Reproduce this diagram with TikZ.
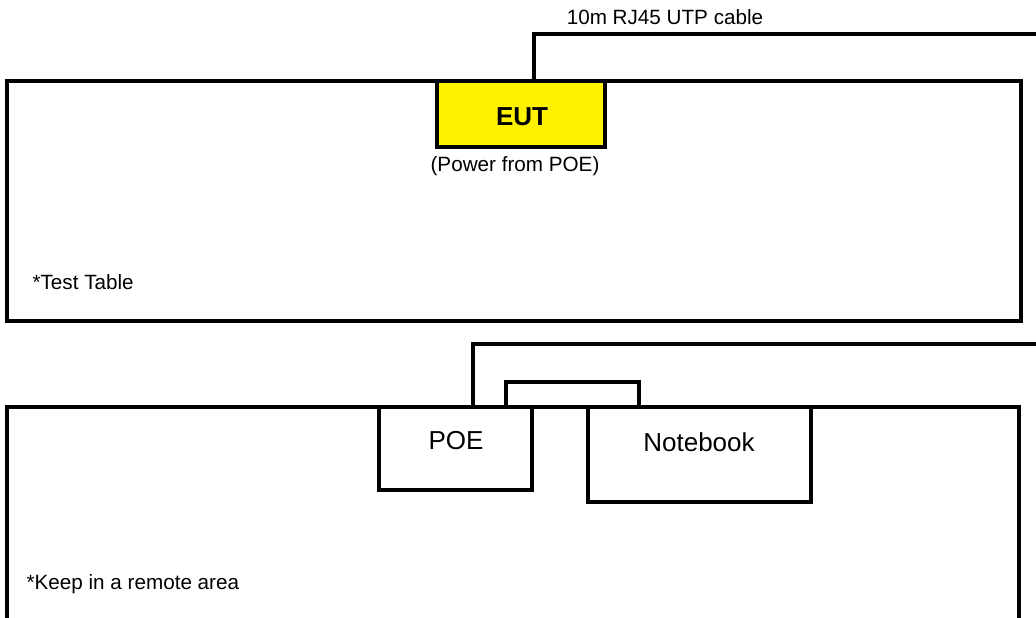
\documentclass[tikz,border=0pt]{standalone}
\usepackage{fontspec}
\setmainfont{Liberation Sans}
\begin{document}
\begin{tikzpicture}[x=0.75pt,y=-0.75pt,
  line width=2.4pt,
  txt/.style={inner sep=0pt,font=\fontsize{15.5}{18}\selectfont},
  bigtxt/.style={inner sep=0pt,font=\fontsize{19.5}{22}\selectfont},
  boxnode/.style={draw,fill=white,inner sep=0pt,line width=2.4pt,outer sep=0pt},
  cable/.style={line width=2.4pt,line join=miter}]
\useasboundingbox (0,0) rectangle (1036,618);
\begin{scope}
\clip (0,0) rectangle (1036,618);
% test table
\draw[line width=2.4pt] (7,81) rectangle (1021,321);
% remote area table (no bottom edge visible)
\draw[line width=2.4pt] (7,630) -- (7,407) -- (1019,407) -- (1019,630);
% cable ends
\coordinate (c1) at (1040,34);
\coordinate (c2) at (1040,344);
\node[boxnode,fill=yellow,minimum width=126pt,minimum height=49.5pt] (eut) at (521,114) {};
\node[boxnode,minimum width=114.75pt,minimum height=62.25pt] (poe) at (455.5,448.5) {};
\node[boxnode,minimum width=167.25pt,minimum height=71.25pt] (nb) at (699.5,454.5) {};
\draw[cable] (eut.north -| 534,0) -- (534,34) -- (c1);
\draw[cable] (poe.north -| 473,0) -- (473,344) -- (c2);
\draw[cable] (poe.north -| 506,0) -- (506,382) -- (639,382) -- (nb.north -| 639,0);
\end{scope}
\node[txt,font=\fontsize{19.5}{22}\selectfont\bfseries] (eutlbl) at (522,117) {EUT};
\node[txt] (pwr) at (515,166) {(Power from POE)};
\node[txt] (cbl) at (665,17) {10m RJ45 UTP cable};
\node[txt,anchor=west] (tt) at (31,282) {*Test Table};
\node[bigtxt] (poelbl) at (456,441) {POE};
\node[bigtxt] (nblbl) at (699,442) {Notebook};
\node[txt,anchor=west] (ra) at (25,584) {*Keep in a remote area};
\end{tikzpicture}
\end{document}
